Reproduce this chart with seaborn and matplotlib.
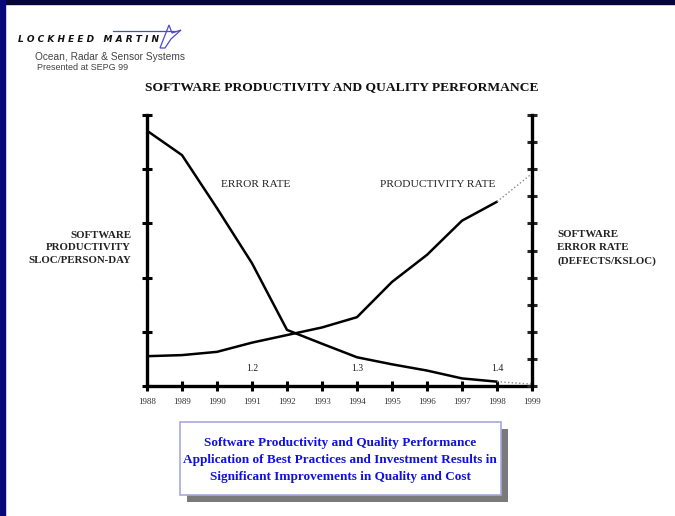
import numpy as np
import matplotlib.pyplot as plt
import seaborn as sns
from matplotlib.patches import Rectangle, Polygon

# data
years        = [1988, 1989, 1990, 1991, 1992, 1993, 1994, 1995, 1996, 1997, 1998]
productivity = [0.55, 0.57, 0.63, 0.80, 0.94, 1.08, 1.27, 1.92, 2.42, 3.05, 3.40]
error_rate   = [9.42, 8.52, 6.56, 4.53, 2.07, 1.56, 1.06, 0.80, 0.57, 0.28, 0.16]
proj_years   = [1998, 1999]
proj_prod    = [3.40, 3.92]
proj_error   = [0.16, 0.07]
tick_years   = list(range(1988, 2000))
cmm_labels   = ['1.2', '1.3', '1.4']
cmm_years    = [1991, 1994, 1998]

W, H = 675, 516
sns.set_style('white')
plt.rcParams['font.family'] = ['Liberation Serif', 'DejaVu Serif']

fig = plt.figure(figsize=(W / 100, H / 100), dpi=100)
fig.patch.set_facecolor('white')

def fx(px):
    return px / W

def fy(py):
    return 1 - py / H

# navy frame strips (top and left)
fig.patches.append(Rectangle((0, fy(4)), 1, 4 / H, transform=fig.transFigure,
                             color='#05053a', zorder=0))
fig.patches.append(Rectangle((0, 0), fx(5), 1, transform=fig.transFigure,
                             color='#08087a', zorder=0))

ax = fig.add_axes([fx(147), fy(386), (532 - 147) / W, (386 - 115) / H])
ax2 = ax.twinx()

sns.lineplot(x=years, y=productivity, ax=ax, color='black', linewidth=1.8)
sns.lineplot(x=proj_years, y=proj_prod, ax=ax, color='#888888',
             linewidth=1.0, linestyle=':')
sns.lineplot(x=years, y=error_rate, ax=ax2, color='black', linewidth=1.8)
sns.lineplot(x=proj_years, y=proj_error, ax=ax2, color='#888888',
             linewidth=1.0, linestyle=':')

ax.set_xlim(1988, 1999)
ax.set_ylim(0, 5)
ax2.set_ylim(0, 10)
ax.set_xticks(tick_years)
ax.set_xticklabels([str(y) for y in tick_years], fontsize=6.5, color='#333333')
ax.set_yticks(range(0, 6))
ax2.set_yticks(range(0, 11))
ax.set_yticklabels([])
ax2.set_yticklabels([])
for a in (ax, ax2):
    for s in a.spines.values():
        s.set_visible(False)
    a.set_xlabel('')
    a.set_ylabel('')
ax.spines['left'].set_visible(True)
ax.spines['bottom'].set_visible(True)
ax2.spines['right'].set_visible(True)
for s in (ax.spines['left'], ax.spines['bottom'], ax2.spines['right']):
    s.set_linewidth(2.4)
    s.set_color('black')
ax.tick_params(axis='both', direction='inout', length=7, width=2.2,
               colors='black', labelcolor='#333333', pad=5)
ax.tick_params(axis='y', left=True)
ax.tick_params(axis='x', bottom=True)
ax2.tick_params(axis='y', direction='inout', length=7, width=2.2, right=True)

# in-plot annotations
ax.text(1991.1, 3.71, 'ERROR RATE', fontsize=8.2, ha='center', va='center',
        color='#222222')
ax.text(1996.3, 3.71, 'PRODUCTIVITY RATE', fontsize=8.2, ha='center',
        va='center', color='#222222')
for lab, yr in zip(cmm_labels, cmm_years):
    ax.text(yr, 0.33, lab, fontsize=7, ha='center', va='center',
            color='#222222')

# axis titles
fig.text(fx(131), fy(248), 'SOFTWARE\nPRODUCTIVITY\nSLOC/PERSON-DAY',
         ha='right', va='center', fontsize=7.8, fontweight='bold',
         linespacing=1.55, color='#222222')
fig.text(fx(557), fy(248), 'SOFTWARE\nERROR RATE\n(DEFECTS/KSLOC)',
         ha='left', va='center', fontsize=7.8, fontweight='bold',
         linespacing=1.55, color='#222222')

# title
fig.text(fx(342), fy(87), 'SOFTWARE PRODUCTIVITY AND QUALITY PERFORMANCE',
         ha='center', va='center', fontsize=9.7, fontweight='bold',
         color='#111111')

# header / logo
fig.text(fx(18), fy(40), 'L O C K H E E D   M A R T I N', ha='left',
         va='center', fontsize=6.5, fontweight='bold', fontstyle='italic',
         family=['DejaVu Sans'], color='#111111')
fig.lines.append(plt.Line2D([fx(113), fx(176)], [fy(31), fy(31)],
                            transform=fig.transFigure, color='#4a4ad0',
                            linewidth=0.9))
fig.patches.append(Polygon([(fx(160), fy(48)), (fx(169), fy(25)),
                            (fx(172), fy(33)), (fx(181), fy(30)),
                            (fx(171), fy(39)), (fx(165), fy(48))],
                           closed=True, transform=fig.transFigure,
                           facecolor='none', edgecolor='#4a4ad0',
                           linewidth=0.9))
fig.text(fx(35), fy(57), 'Ocean, Radar & Sensor Systems', ha='left',
         va='center', fontsize=7.3, family=['Liberation Sans'],
         color='#444444')
fig.text(fx(37), fy(68), 'Presented at SEPG 99', ha='left', va='center',
         fontsize=6.5, family=['Liberation Sans'], color='#444444')

# caption box with shadow
fig.patches.append(Rectangle((fx(187), fy(502)), (508 - 187) / W,
                             (502 - 429) / H, transform=fig.transFigure,
                             facecolor='#7a7a7a', edgecolor='none', zorder=1))
fig.patches.append(Rectangle((fx(180), fy(495)), (501 - 180) / W,
                             (495 - 422) / H, transform=fig.transFigure,
                             facecolor='white', edgecolor='#a8a8e0',
                             linewidth=1.2, zorder=2))
fig.text(fx(340), fy(460),
         'Software Productivity and Quality Performance\n'
         'Application of Best Practices and Investment Results in\n'
         'Significant Improvements in Quality and Cost',
         ha='center', va='center', fontsize=9.5, fontweight='bold',
         color='#1010e0', linespacing=1.52, zorder=3)

fig.savefig('out.png', dpi=100)
